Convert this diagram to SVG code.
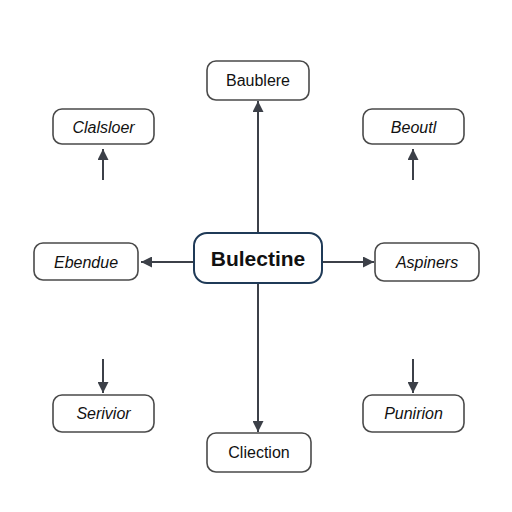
<svg xmlns="http://www.w3.org/2000/svg" width="512" height="512" viewBox="0 0 512 512">
<style>
.box{fill:#fff;stroke:#4a4a4a;stroke-width:1.6}
.center{fill:#fff;stroke:#1f3a57;stroke-width:2}
.t{font-family:"Liberation Sans",Arial,sans-serif;font-size:16px;fill:#111;text-anchor:middle;dominant-baseline:central}
.i{font-style:italic}
.b{font-weight:bold;font-size:21px}
.c{stroke:#3c4048;stroke-width:2;fill:none}
</style>
<defs>
<marker id="ah2" viewBox="0 0 10 10" refX="10" refY="5" markerWidth="12" markerHeight="11" orient="auto" markerUnits="userSpaceOnUse">
<path d="M0,0 L10,5 L0,10 z" fill="#3c4048"/>
</marker>
</defs>
<rect width="512" height="512" fill="#fff"/>
<g id="connectors">
<line class="c" x1="258" y1="233" x2="258" y2="101" marker-end="url(#ah2)"/>
<line class="c" x1="258" y1="283" x2="258" y2="432" marker-end="url(#ah2)"/>
<line class="c" x1="194" y1="262" x2="141" y2="262" marker-end="url(#ah2)"/>
<line class="c" x1="322" y1="262" x2="374" y2="262" marker-end="url(#ah2)"/>
<line class="c" x1="103" y1="180" x2="103" y2="149" marker-end="url(#ah2)"/>
<line class="c" x1="413" y1="180" x2="413" y2="149" marker-end="url(#ah2)"/>
<line class="c" x1="103" y1="359" x2="103" y2="393" marker-end="url(#ah2)"/>
<line class="c" x1="413" y1="359" x2="413" y2="393" marker-end="url(#ah2)"/>
</g>
<g id="n-center"><rect class="center" x="194" y="233" width="128" height="50" rx="13"/><text class="t b" x="258" y="258">Bulectine</text></g>
<g id="n-top"><rect class="box" x="207" y="61" width="102" height="39" rx="9"/><text class="t" x="258" y="80.500">Baublere</text></g>
<g id="n-bottom"><rect class="box" x="207" y="433" width="104" height="39" rx="9"/><text class="t" x="259" y="452.500">Cliection</text></g>
<g id="n-tl"><rect class="box" x="53" y="109" width="101" height="35" rx="9"/><text class="t i" x="103.500" y="127">Clalsloer</text></g>
<g id="n-tr"><rect class="box" x="363" y="109" width="101" height="35" rx="9"/><text class="t i" x="413.500" y="127">Beoutl</text></g>
<g id="n-l"><rect class="box" x="34" y="243" width="104" height="37" rx="9"/><text class="t i" x="86" y="262">Ebendue</text></g>
<g id="n-r"><rect class="box" x="375" y="243" width="104" height="38" rx="9"/><text class="t i" x="427" y="262.500">Aspiners</text></g>
<g id="n-bl"><rect class="box" x="53" y="395" width="101" height="37" rx="9"/><text class="t i" x="103.500" y="413.500">Serivior</text></g>
<g id="n-br"><rect class="box" x="363" y="395" width="101" height="37" rx="9"/><text class="t i" x="413.500" y="413.500">Punirion</text></g>
</svg>
